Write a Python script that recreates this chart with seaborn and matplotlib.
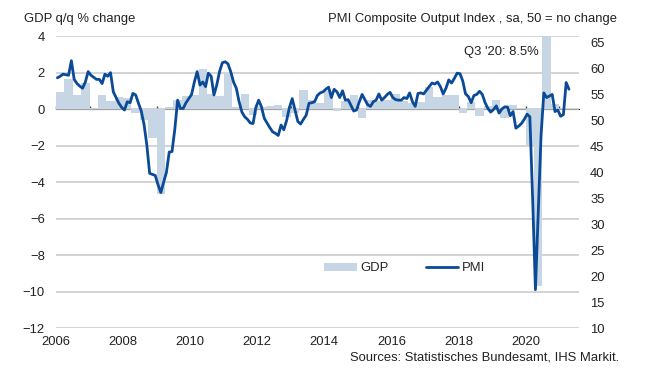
import seaborn as sns
import pandas as pd
import matplotlib.pyplot as plt
import numpy as np
from matplotlib.patches import Patch
from matplotlib.lines import Line2D

# GDP q/q % change, quarterly 2006Q1 - 2020Q4
gdp_years = list(range(2006, 2021))
gdp = [0.95, 1.65, 0.8, 1.45,
       0.05, 0.8, 0.45, 0.65,
       0.6, -0.2, -0.6, -1.6,
       -4.65, 0.1, 0.5, 0.7,
       0.8, 2.2, 0.85, 0.7,
       2.0, 0.1, 0.85, -0.3,
       0.1, 0.2, 0.25, -0.4,
       -0.2, 1.05, 0.5, 0.35,
       1.0, -0.1, 0.45, 0.8,
       -0.5, 0.5, 0.45, 0.5,
       0.85, 0.45, 0.35, 0.4,
       1.2, 0.65, 0.8, 0.8,
       -0.2, 0.4, -0.35, 0.2,
       0.5, -0.5, 0.25, 0.0,
       -2.0, -9.7, 8.5, 0.3]

# PMI composite output index, monthly Jan 2006 - Apr 2021
pmi_start = 2006
pmi = [58.2, 58.5, 58.9, 58.8, 58.7, 61.5, 57.9, 57.1, 56.6, 56.2, 57.4, 59.4,
       58.7, 58.3, 57.9, 57.9, 57.1, 58.9, 58.5, 59.2, 55.5, 54.4, 53.3, 52.5,
       52.0, 53.6, 53.4, 55.2, 54.9, 53.3, 51.8, 49.2, 45.2, 39.8, 39.6, 39.4,
       37.6, 36.1, 38.1, 40.0, 43.9, 44.0, 48.3, 53.9, 52.3, 52.3, 53.4, 54.2,
       55.0, 57.4, 59.4, 56.8, 57.4, 56.5, 59.1, 58.5, 54.9, 56.8, 59.4, 61.1,
       61.3, 60.9, 59.4, 57.4, 56.2, 53.6, 51.6, 50.7, 50.2, 49.5, 49.4, 52.5,
       53.9, 52.6, 50.4, 49.5, 48.6, 47.8, 47.5, 47.1, 49.1, 48.2, 50.0, 52.5,
       54.2, 52.0, 49.8, 49.3, 50.2, 51.0, 53.3, 53.4, 53.6, 54.8, 55.3, 55.5,
       56.0, 56.4, 54.4, 56.0, 55.5, 54.4, 55.7, 53.9, 54.0, 52.9, 51.8, 52.0,
       53.6, 55.0, 54.0, 53.0, 52.7, 53.6, 53.9, 55.1, 53.9, 54.4, 55.0, 55.4,
       54.4, 54.0, 53.9, 53.9, 54.4, 54.2, 55.3, 53.6, 52.7, 55.2, 55.3, 55.1,
       55.8, 56.5, 57.2, 57.0, 57.4, 56.5, 55.1, 56.2, 57.8, 57.2, 58.1, 59.1,
       59.0, 57.6, 55.1, 54.6, 53.4, 54.8, 55.0, 55.6, 55.0, 53.4, 52.3, 51.6,
       52.1, 52.8, 51.4, 52.2, 52.6, 52.6, 50.9, 51.7, 48.5, 48.9, 49.4, 50.2,
       51.2, 50.7, 35.0, 17.4, 32.3, 47.0, 55.3, 54.4, 54.7, 55.0, 51.7, 52.0,
       50.8, 51.1, 57.3, 56.0]

bar_color = "#c6d6e5"
line_color = "#0b4a96"
grid_color = "#c8c8c8"
fs = 9.4

gdp_df = pd.DataFrame({"x": gdp_years[0] + (np.arange(len(gdp)) + 0.5) / 4, "GDP": gdp})
pmi_df = pd.DataFrame({"x": pmi_start + (np.arange(len(pmi)) + 0.5) / 12, "PMI": pmi})

sns.set_style("white")
plt.rcParams["font.family"] = ["Liberation Sans", "DejaVu Sans"]
plt.rcParams["font.size"] = fs

fig, ax = plt.subplots(figsize=(6.62, 3.78), dpi=100)
fig.subplots_adjust(left=0.0846, right=0.8746, top=0.904, bottom=0.132)

# bars (left axis)
sns.barplot(data=gdp_df, x="x", y="GDP", native_scale=True, width=1.0,
            color=bar_color, saturation=1, linewidth=0, ax=ax, zorder=2)
ax.set_ylim(-12, 4)
ax.set_yticks(range(-12, 5, 2))
ax.yaxis.grid(True, color=grid_color, linewidth=1.1, zorder=0)
ax.set_axisbelow(True)
ax.set_xlim(2006, 2021.59)
ax.set_xticks(range(2006, 2021, 2))
ax.tick_params(axis="x", length=0, pad=6, labelsize=fs, colors="#222222")
ax.tick_params(axis="y", length=0, pad=8, labelsize=fs, colors="#222222")
ax.set_xlabel("")
ax.set_ylabel("")
for s in ax.spines.values():
    s.set_visible(False)

# zero line with yearly ticks, no labels
zero = ax.secondary_xaxis(0.75)
year_ticks = list(range(2006, 2022))
zero.set_xticks(year_ticks, labels=[""] * len(year_ticks))
zero.tick_params(direction="out", length=2.2, width=1, color="#404040")
zero.spines["bottom"].set_color("#404040")
zero.spines["bottom"].set_linewidth(1)

# line (right axis)
ax2 = ax.twinx()
sns.lineplot(data=pmi_df, x="x", y="PMI", color=line_color, linewidth=2.0, ax=ax2)
ax2.set_ylim(10, 66.2)
ax2.set_yticks(range(10, 66, 5))
ax2.tick_params(axis="y", length=0, pad=8, labelsize=fs, colors="#222222")
ax2.set_xlim(2006, 2021.59)
ax2.set_ylabel("")
ax2.set_xlabel("")
for s in ax2.spines.values():
    s.set_visible(False)

handles = [Patch(facecolor=bar_color, edgecolor="none"),
           Line2D([0], [0], color=line_color, linewidth=2.0)]
ax2.legend(handles, ["GDP", "PMI"], loc="center", bbox_to_anchor=(0.667, 0.205),
           ncol=2, frameon=False, fontsize=fs, handlelength=2.5, handleheight=0.6,
           handletextpad=0.3, columnspacing=2.8)

ax2.text(0.9235, 0.945, "Q3 '20: 8.5%", transform=ax2.transAxes, ha="right",
         va="center", fontsize=fs, color="#222222")

fig.text(0.036, 0.95, "GDP q/q % change", ha="left", va="center", fontsize=fs, color="#222222")
fig.text(0.932, 0.95, "PMI Composite Output Index , sa, 50 = no change", ha="right",
         va="center", fontsize=fs, color="#222222")
fig.text(0.935, 0.053, "Sources: Statistisches Bundesamt, IHS Markit.", ha="right",
         va="center", fontsize=fs, color="#222222")

fig.savefig("out.png", dpi=100)
